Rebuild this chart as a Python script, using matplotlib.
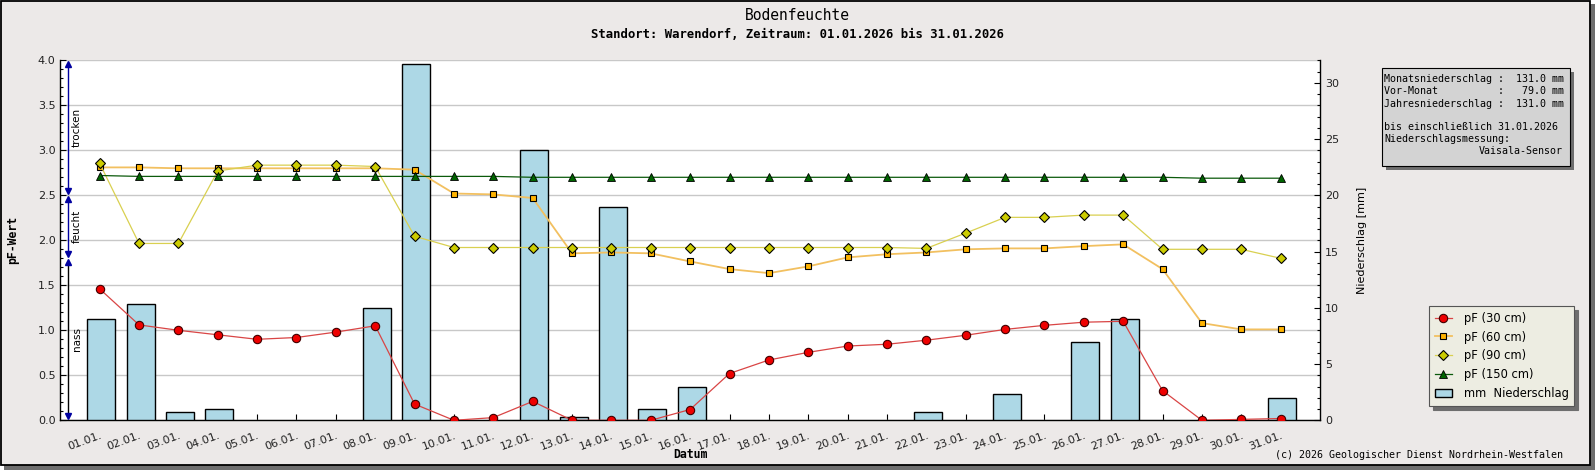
import matplotlib.pyplot as plt
import numpy as np
from matplotlib.pyplot import MultipleLocator
from matplotlib.patches import Rectangle

# Daten (Januar 2026, Warendorf)
dates = ["%02d.01." % d for d in range(1, 32)]
pf30 = [1.46, 1.06, 1.00, 0.95, 0.90, 0.92, 0.98, 1.05, 0.18, 0.00, 0.03, 0.21, 0.00, 0.00, 0.00, 0.12,
        0.52, 0.67, 0.755, 0.825, 0.845, 0.89, 0.945, 1.01, 1.055, 1.09, 1.10, 0.33, 0.00, 0.01, 0.02]
pf60 = [2.81, 2.81, 2.80, 2.80, 2.80, 2.80, 2.80, 2.80, 2.785, 2.52, 2.51, 2.47, 1.855, 1.865, 1.855, 1.765,
        1.68, 1.635, 1.71, 1.81, 1.845, 1.865, 1.90, 1.91, 1.91, 1.935, 1.955, 1.68, 1.08, 1.01, 1.01]
pf90 = [2.855, 1.965, 1.965, 2.77, 2.835, 2.835, 2.835, 2.82, 2.045, 1.92, 1.92, 1.92, 1.92, 1.92, 1.92, 1.92,
        1.92, 1.92, 1.92, 1.92, 1.92, 1.91, 2.08, 2.255, 2.255, 2.28, 2.28, 1.90, 1.90, 1.90, 1.80]
pf150 = [2.72, 2.71, 2.71, 2.71, 2.71, 2.71, 2.71, 2.71, 2.71, 2.71, 2.71, 2.70, 2.70, 2.70, 2.70, 2.70,
         2.70, 2.70, 2.70, 2.70, 2.70, 2.70, 2.70, 2.70, 2.70, 2.70, 2.70, 2.70, 2.69, 2.69, 2.69]
precip = [9.0, 10.3, 0.7, 1.0, 0, 0, 0, 10.0, 31.7, 0, 0, 24.0, 0.3, 19.0, 1.0, 3.0,
          0, 0, 0, 0, 0, 0.7, 0, 2.3, 0, 7.0, 9.0, 0, 0, 0, 2.0]
vormonat = 79.0
jahr = 131.0
# Feuchtebereiche (Name, von, bis)
zones = [("trocken", 2.5, 4.0), ("feucht", 1.8, 2.5), ("nass", 0.0, 1.8)]

bg = "#ECE9E8"
mono = "DejaVu Sans Mono"
W, H = 1595, 470

fig = plt.figure(figsize=(W / 100, H / 100), dpi=100, facecolor="white")
# rahmen + schatten
fig.add_artist(Rectangle((4 / W, 0), 1 - 4 / W, 1 - 4 / H, transform=fig.transFigure,
                         facecolor="#6E6E6E", edgecolor="none", zorder=-5))
fig.add_artist(Rectangle((0.5 / W, 5 / H), 1589 / W, 1 - 5.5 / H, transform=fig.transFigure,
                         facecolor=bg, edgecolor="black", lw=1.3, zorder=-4))

x0, x1, ytop, ybot = 60.3, 1320, 60.3, 420.3
rect = [x0 / W, 1 - ybot / H, (x1 - x0) / W, (ybot - ytop) / H]
ax = fig.add_axes(rect)
ax.set_facecolor("white")
axb = ax.twinx()
axl = ax.twinx()

x = np.arange(1, len(dates) + 1)

# grid / linke achse
ax.set_xlim(0, 32)
ax.set_ylim(0, 4.0)
ax.yaxis.set_major_locator(MultipleLocator(0.5))
ax.yaxis.set_minor_locator(MultipleLocator(0.1))
ax.yaxis.set_major_formatter("{x:.1f}")
ax.grid(axis="y", which="major", color="#C8C8C8", lw=1.0)
ax.set_axisbelow(True)
ax.set_xticks(x)
ax.set_xticklabels(dates, rotation=20, ha="right", rotation_mode="anchor", fontsize=8, color="#222222")
ax.tick_params(axis="x", direction="in", length=4, width=0.8, pad=7)
ax.tick_params(axis="y", which="major", direction="in", length=4, width=0.8, labelsize=8, labelcolor="#222222")
ax.tick_params(axis="y", which="minor", direction="in", length=2.5, width=0.8)
for s in ["top", "right"]:
    ax.spines[s].set_visible(False)
ax.spines["left"].set_linewidth(1.0)
ax.spines["bottom"].set_linewidth(1.0)
ax.set_ylabel("pF-Wert", fontfamily=mono, fontweight="bold", fontsize=8.3)
ax.yaxis.set_label_coords(-0.033, 0.5)

# niederschlag (nur tage mit regen)
p = np.array(precip)
wet = p > 0
bars = axb.bar(x[wet] + 0.04, p[wet], width=0.71, color="#ADD8E6", edgecolor="black", lw=1.0,
               label="mm  Niederschlag")
axb.set_ylim(0, 32)
axb.yaxis.set_major_locator(MultipleLocator(5))
axb.yaxis.set_minor_locator(MultipleLocator(1))
axb.tick_params(axis="y", which="major", direction="in", length=4, width=0.8, labelsize=8, labelcolor="#222222")
axb.tick_params(axis="y", which="minor", direction="in", length=2.5, width=0.8)
for s in ["top", "left", "bottom"]:
    axb.spines[s].set_visible(False)
axb.spines["right"].set_linewidth(1.0)
axb.set_ylabel("Niederschlag [mm]", fontsize=8)
axb.yaxis.set_label_coords(1.029, 0.5)

# pF kurven
axl.set_ylim(0, 4.0)
axl.yaxis.set_visible(False)
for s in axl.spines.values():
    s.set_visible(False)
axl.plot(x, pf30, color="#D94545", lw=0.9, marker="o", ms=6, mfc="#EE0000", mec="#400000", mew=0.8,
         label="pF (30 cm)")
axl.plot(x, pf60, color="#F2C060", lw=1.3, marker="s", ms=5, mfc="#FFB300", mec="black", mew=0.8,
         label="pF (60 cm)")
axl.plot(x, pf90, color="#D9D050", lw=0.9, marker="D", ms=5, mfc="#CCCC00", mec="black", mew=0.8,
         label="pF (90 cm)")
axl.plot(x, pf150, color="#0B5A0B", lw=0.9, marker="^", ms=6, mfc="#006400", mec="black", mew=0.6,
         label="pF (150 cm)")

# bereichspfeile links
xa = 0.2
for name, lo, hi in zones:
    a, b = lo + 0.045, hi - 0.045
    lc = "black" if name == "nass" else "#0000A0"
    axl.plot([xa, xa], [a, b], color=lc, lw=1.0, clip_on=False)
    axl.plot([xa], [b], marker="^", ms=5, color="#0000A0", clip_on=False)
    axl.plot([xa], [a], marker="v", ms=5, color="#0000A0", clip_on=False)
    axl.text(xa + 0.22, (lo + hi) / 2, name, rotation=90, ha="center", va="center", fontsize=7.5)

# legende
h1, l1 = axl.get_legend_handles_labels()
leg = fig.legend(h1 + [bars], l1 + ["mm  Niederschlag"], loc="upper left",
                 bbox_to_anchor=(1429 / W, 1 - 306 / H), borderaxespad=0, fontsize=8.3,
                 frameon=True, fancybox=False, shadow={"color": "#6E6E6E", "alpha": 1, "ox": 3, "oy": -3},
                 handlelength=1.5, handletextpad=1.0, labelspacing=0.5, borderpad=0.5)
leg.get_frame().set_facecolor("#EDEDE2")
leg.get_frame().set_edgecolor("#555555")
leg.get_frame().set_linewidth(0.8)
leg.get_frame().set_alpha(1)

# infobox
bx0, bx1, by0, by1 = 1382, 1570, 68, 166
fig.add_artist(Rectangle(((bx0 + 4) / W, 1 - (by1 + 4) / H), (bx1 - bx0) / W, (by1 - by0) / H,
                         transform=fig.transFigure, facecolor="#6E6E6E", edgecolor="none", zorder=2))
fig.add_artist(Rectangle((bx0 / W, 1 - by1 / H), (bx1 - bx0) / W, (by1 - by0) / H,
                         transform=fig.transFigure, facecolor="#D3D3D3", edgecolor="black", lw=0.8, zorder=3))
lines = [
    "Monatsniederschlag : %6.1f mm" % sum(precip),
    "Vor-Monat          : %6.1f mm" % vormonat,
    "Jahresniederschlag : %6.1f mm" % jahr,
    "",
    "bis einschließlich 31.01.2026",
    "Niederschlagsmessung:",
]
for i, t in enumerate(lines):
    fig.text((bx0 + 2.5) / W, 1 - (79.5 + 12 * i) / H, t, fontfamily=mono, fontsize=7.2,
             va="center", ha="left", zorder=4)
fig.text((bx1 - 7) / W, 1 - (79.5 + 12 * 6) / H, "Vaisala-Sensor", fontfamily=mono, fontsize=7.2,
         va="center", ha="right", zorder=4)

# titel
fig.text(0.5, 1 - 15 / H, "Bodenfeuchte", fontfamily=mono, fontsize=10.5, ha="center", va="center")
fig.text(0.5, 1 - 34 / H, "Standort: Warendorf, Zeitraum: 01.01.2026 bis 31.01.2026", fontfamily=mono,
         fontweight="bold", fontsize=8.8, ha="center", va="center")
fig.text(690 / W, 1 - 455 / H, "Datum", fontfamily=mono, fontweight="bold", fontsize=8.3,
         ha="center", va="center")
fig.text(1563 / W, 1 - 455 / H, "(c) 2026 Geologischer Dienst Nordrhein-Westfalen", fontfamily=mono,
         fontsize=7.2, ha="right", va="center")

plt.savefig("out.png", dpi=100)
plt.close()
